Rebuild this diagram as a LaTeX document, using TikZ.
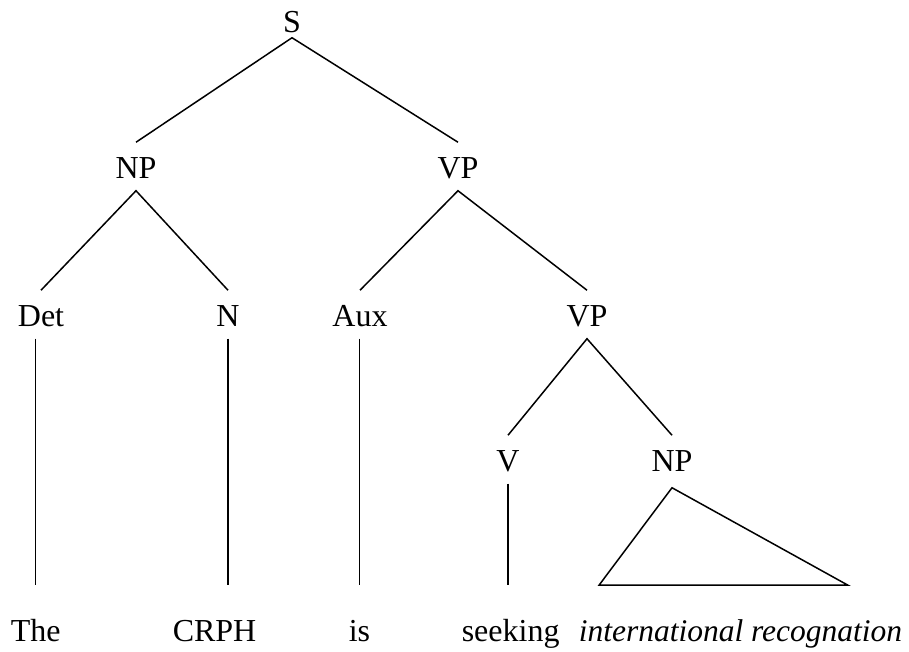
\documentclass[tikz,border=0pt]{standalone}
\usepackage{fontspec}
\setmainfont{Liberation Serif}
\usepackage{tikz}

\begin{document}
\begin{tikzpicture}[x=1pt, y=1pt, line width=1.5pt,
        cat/.style={anchor=base, inner sep=0pt, text height=36pt, text depth=11pt, font=\fontsize{32}{38}\selectfont},
        leaf/.style={anchor=base west, inner sep=0pt, text height=56pt, text depth=0pt, font=\fontsize{32}{38}\selectfont}]
            \useasboundingbox (0, 0) rectangle (909, 652);
            % categories
            \node[cat, text depth=4pt] (S) at (292, 619) {S};
            \node[cat] (NP) at (136, 473) {NP};
            \node[cat] (VP) at (458, 473) {VP};
            \node[cat] (Det) at (41, 325) {Det};
            \node[cat] (N) at (228, 325) {N};
            \node[cat] (Aux) at (360, 325) {Aux};
            \node[cat] (VPb) at (587, 325) {VP};
            \node[cat] (V) at (508, 180) {V};
            \node[cat, text depth=15pt] (NPb) at (672, 180) {NP};
            % words
            \node[leaf] (the) at (10, 10) {The};
            \node[leaf] (crph) at (172, 10) {CRPH};
            \node[leaf] (is) at (348, 10) {is};
            \node[leaf] (seeking) at (461, 10) {seeking};
            \node[leaf, font=\fontsize{31.5}{38}\selectfont\itshape] (recog) at (578, 10) {international recognation};
            % branches
            \draw (NP.north) -- (S.south) -- (VP.north);
            \draw (Det.north) -- (NP.south) -- (N.north);
            \draw (Aux.north) -- (VP.south) -- (VPb.north);
            \draw (V.north) -- (VPb.south) -- (NPb.north);
            \draw (Det.south -| the.north) -- (the.north);
            \draw (N.south) -- (N.south |- crph.north);
            \draw (Aux.south -| is.north) -- (is.north);
            \draw (V.south) -- (V.south |- seeking.north);
            \draw ([xshift=21pt]recog.north west) -- ([xshift=270pt]recog.north west) -- (NPb.south) -- cycle;
        \end{tikzpicture}
\end{document}
